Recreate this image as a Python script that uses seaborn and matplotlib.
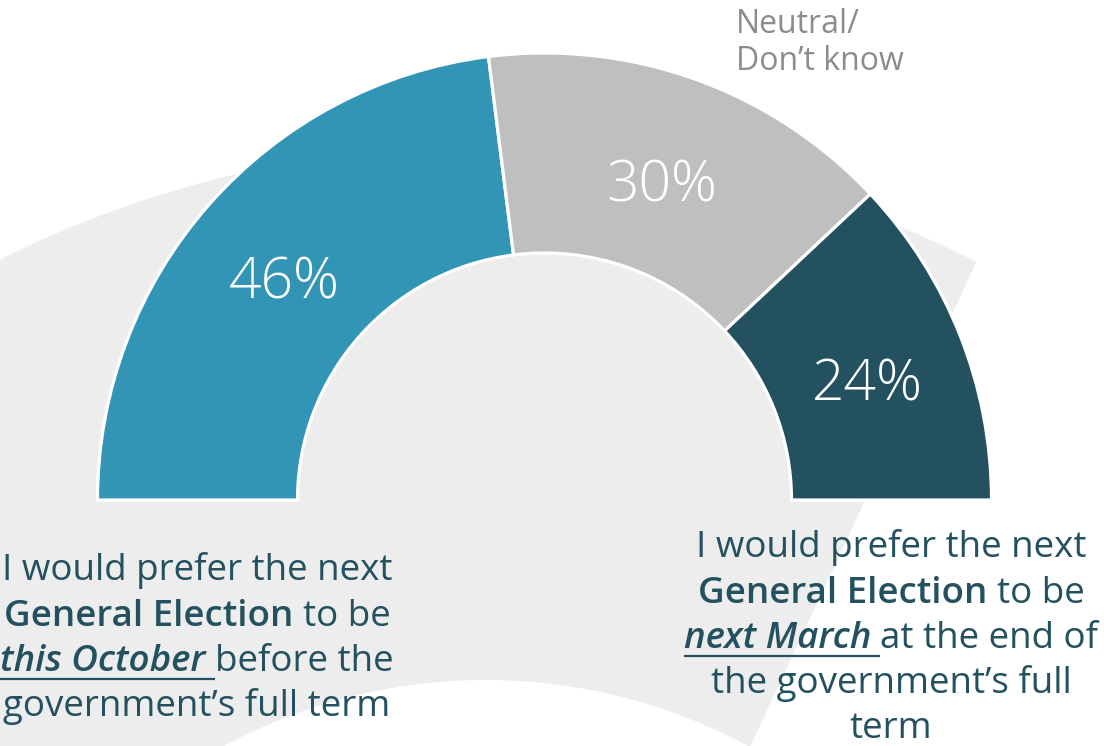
import numpy as np
import matplotlib
matplotlib.use("Agg")
import matplotlib.pyplot as plt
from matplotlib.patches import Polygon
import seaborn as sns

# data
categories = ["Prefer this October", "Neutral/Don't know", "Prefer next March"]
shares = [46, 30, 24]
colors = ["#3295B6", "#BFBFBF", "#23515F"]
pct_labels = ["46%", "30%", "24%"]

TEXT_COLOR = "#23515F"
FONT = "Open Sans"

sns.set_theme(style="white")
plt.rcParams["font.family"] = [FONT, "DejaVu Sans"]

W, H = 1104, 746
fig = plt.figure(figsize=(W / 100, H / 100), dpi=100)
ax = fig.add_axes([0, 0, 1, 1])

# background decoration: a light grey ring segment behind the chart
cx, cy = 486, -487
r_out, r_in = 1088, 553
t_out = np.linspace(np.radians(63.2), np.pi, 200)
t_in = np.linspace(np.pi, np.radians(61.5), 200)
pts = np.concatenate([
    np.c_[cx + r_out * np.cos(t_out), cy + r_out * np.sin(t_out)],
    np.c_[cx + r_in * np.cos(t_in), cy + r_in * np.sin(t_in)],
])
ax.add_patch(Polygon(pts, closed=True, facecolor="#EDEDED", edgecolor="none", zorder=0))

# half donut: hidden lower half balances the shares
R, ring = 447, 200
center = (544.5, 246)
wedges, _ = ax.pie(
    shares + [sum(shares)],
    colors=colors + ["none"],
    startangle=180,
    counterclock=False,
    radius=R,
    center=center,
    wedgeprops=dict(width=ring, edgecolor="white", linewidth=2.3),
)
wedges[-1].set_visible(False)
for w in wedges:
    w.set_zorder(2)

for w, lab in zip(wedges[:-1], pct_labels):
    ang = np.radians((w.theta1 + w.theta2) / 2)
    rm = R - ring / 2
    x = center[0] + rm * np.cos(ang)
    y = center[1] + rm * np.sin(ang) - 13
    ax.text(x, y, lab, ha="center", va="center", color="white",
            fontsize=41, fontweight="light", zorder=3)

ax.set_xlim(0, W)
ax.set_ylim(0, H)
ax.set_aspect("equal")
ax.axis("off")

# neutral label
ax.text(736, H - 33, "Neutral/", color="#8C8C8C", fontsize=23, ha="left", va="baseline")
ax.text(736, H - 70, "Don\u2019t know", color="#8C8C8C", fontsize=23, ha="left", va="baseline")

renderer = fig.canvas.get_renderer()


def text_width(s, **kw):
    t = ax.text(0, 0, s, **kw)
    bb = t.get_window_extent(renderer)
    t.remove()
    return bb.width


def rich_line(segments, xc, yb, size):
    # segments: (text, weight, style, underline); words joined by a single space
    kws = [dict(fontsize=size, fontweight=wt, fontstyle=st) for _, wt, st, _ in segments]
    widths = [text_width(s, **k) for (s, _, _, _), k in zip(segments, kws)]
    spaces = [text_width("a a", **k) - text_width("aa", **k) for k in kws]
    total = sum(widths) + sum(spaces[:-1])
    x = xc - total / 2
    for i, ((s, wt, st, ul), k) in enumerate(zip(segments, kws)):
        ax.text(x, yb, s, ha="left", va="baseline", color=TEXT_COLOR, zorder=3, **k)
        sp = spaces[i] if i < len(segments) - 1 else 0
        if ul:
            ax.plot([x, x + widths[i] + sp], [yb - 8, yb - 8], color=TEXT_COLOR,
                    lw=1.6, solid_capstyle="butt", zorder=3)
        x += widths[i] + sp


N = ("normal", "normal", False)
B = ("semibold", "normal", False)
IU = ("semibold", "italic", True)

left_lines = [
    [("I would prefer the next",) + N],
    [("General Election",) + B, ("to be",) + N],
    [("this October",) + IU, ("before the",) + N],
    [("government\u2019s full term",) + N],
]
left_base = [580, 626, 671, 716]

right_lines = [
    [("I would prefer the next",) + N],
    [("General Election",) + B, ("to be",) + N],
    [("next March",) + IU, ("at the end of",) + N],
    [("the government\u2019s full",) + N],
    [("term",) + N],
]
right_base = [557, 603, 648, 693, 738]

fs = 26.5
for segs, yb in zip(left_lines, left_base):
    rich_line(segs, 197, H - yb, fs)
for segs, yb in zip(right_lines, right_base):
    rich_line(segs, 891, H - yb, fs)

fig.savefig("out.png", dpi=100, facecolor="white")
